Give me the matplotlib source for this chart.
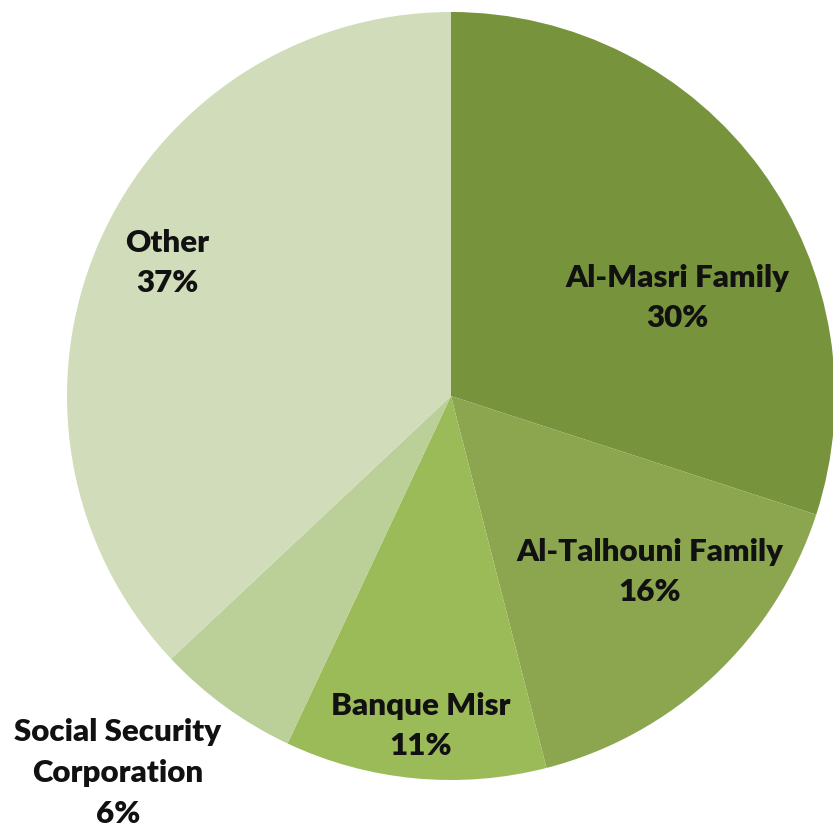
import matplotlib.pyplot as plt

# shareholders, clockwise from 12 o'clock
owners = ['Al-Masri Family', 'Al-Talhouni Family', 'Banque Misr',
          'Social Security\nCorporation', 'Other']
shares = [30, 16, 11, 6, 37]
colors = ['#77933C', '#8BA64F', '#9BBB59', '#BBCF98', '#D1DDBA']

# label anchor points (pixel coords of the 833x828 canvas, y from top)
label_xy = [(677, 298), (650, 572), (421, 726), (118, 773), (167, 263)]

W, H = 833, 828
fig = plt.figure(figsize=(W / 100, H / 100), dpi=100)
ax = fig.add_axes([0, 0, 1, 1])

cx, cy, r = 451, H - 397, 384
ax.pie(shares, colors=colors, startangle=90, counterclock=False,
       center=(cx, cy), radius=r, frame=True,
       wedgeprops=dict(linewidth=0))
ax.set_xlim(0, W)
ax.set_ylim(0, H)
ax.set_aspect('equal')
ax.axis('off')

for name, val, (x, y) in zip(owners, shares, label_xy):
    ax.text(x, H - y, f'{name}\n{val}%', ha='center', va='center',
            fontsize=22.5, fontweight='heavy', family='Lato',
            linespacing=1.55, color='#111111')

fig.savefig('out.png', dpi=100)
